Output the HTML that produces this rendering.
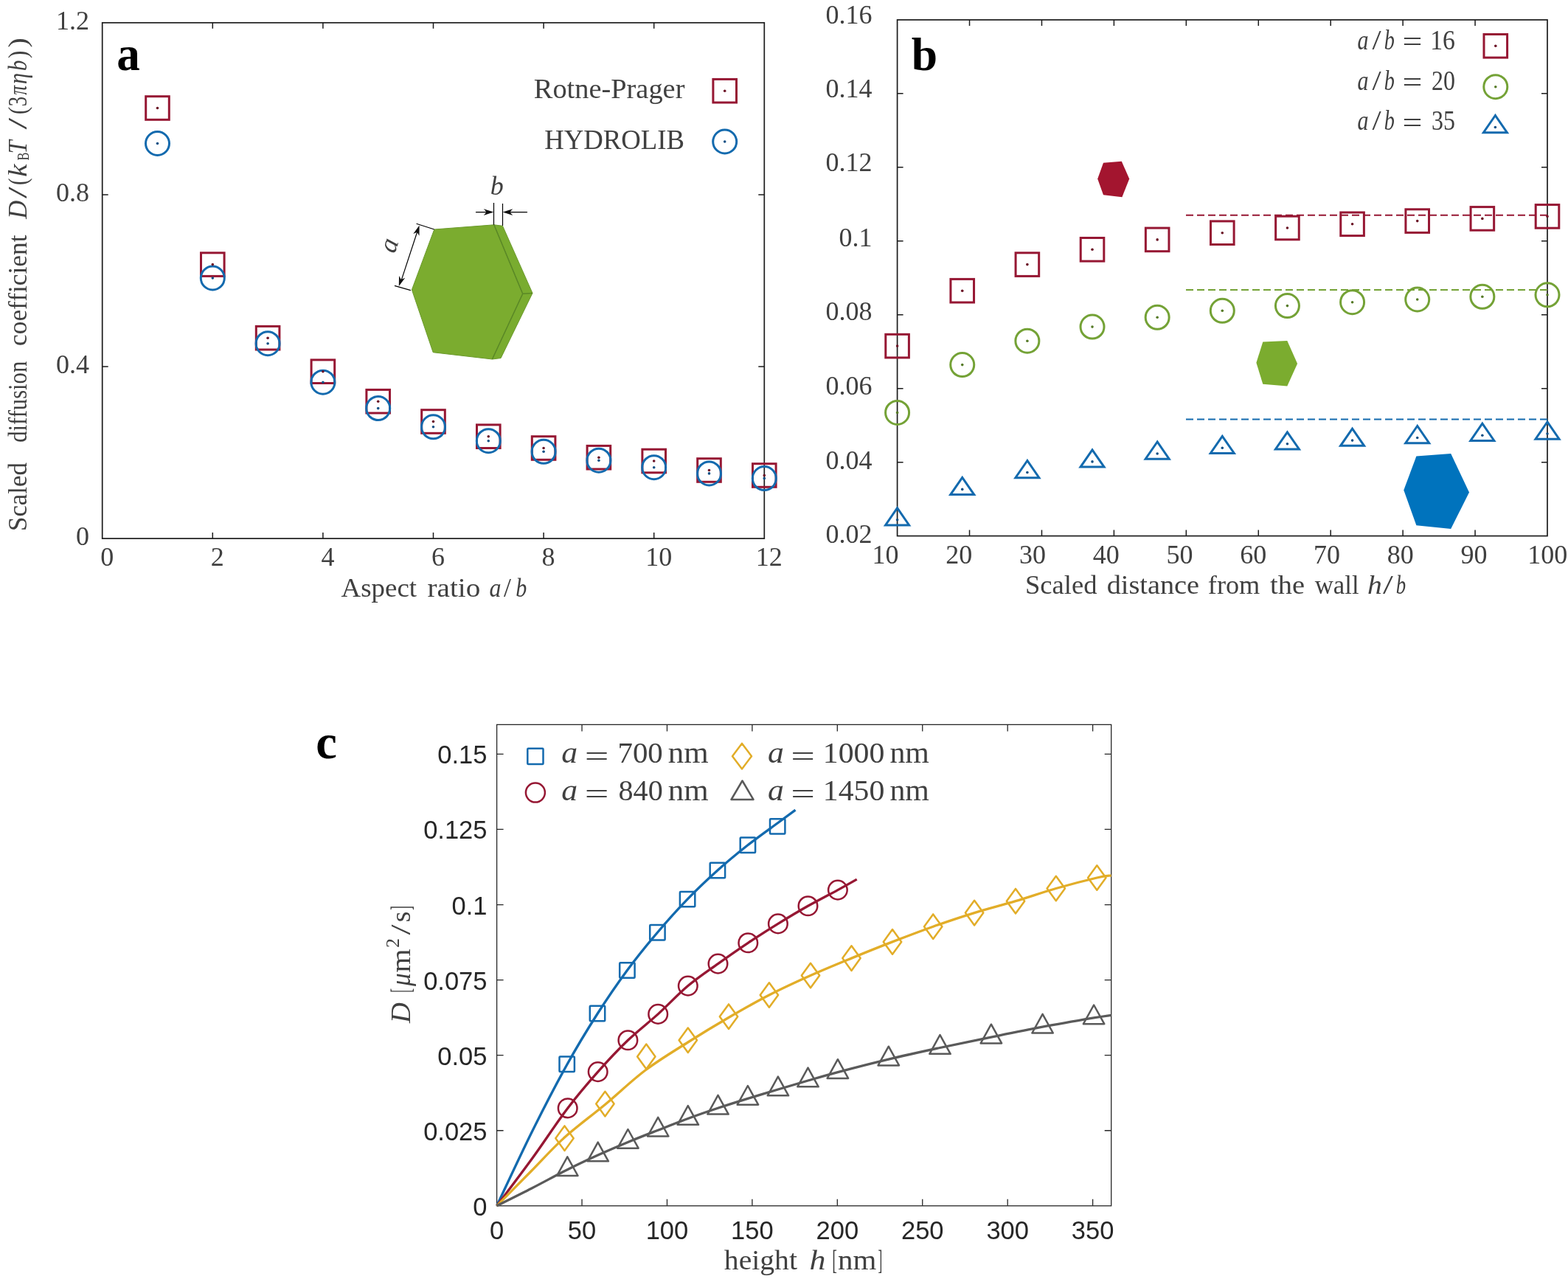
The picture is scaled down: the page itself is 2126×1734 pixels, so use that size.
<!DOCTYPE html><html><head><meta charset="utf-8"><title>Diffusion coefficient figure</title><style>html,body{margin:0;padding:0;background:#fff;}svg{display:block;}</style></head><body>
<svg width="2126" height="1734" viewBox="0 0 2126 1734" font-family="'Liberation Serif', serif">
<rect width="2126" height="1734" fill="#fff"/>
<g id="panel-a">
<path d="M288.3,730.1v-8M288.3,30.8v8M437.9,730.1v-8M437.9,30.8v8M587.5,730.1v-8M587.5,30.8v8M737.1,730.1v-8M737.1,30.8v8M886.7,730.1v-8M886.7,30.8v8M138.7,497h8M1036.3,497h-8M138.7,263.9h8M1036.3,263.9h-8" stroke="#1c1c1c" stroke-width="1.5" fill="none"/>
<rect x="138.7" y="30.8" width="897.6" height="699.3" fill="none" stroke="#1c1c1c" stroke-width="1.7"/>
<text x="121" y="739.1" font-size="36" text-anchor="end" fill="#404040">0</text>
<text x="121" y="506" font-size="36" text-anchor="end" fill="#404040">0.4</text>
<text x="121" y="272.9" font-size="36" text-anchor="end" fill="#404040">0.8</text>
<text x="121" y="39.8" font-size="36" text-anchor="end" fill="#404040">1.2</text>
<text x="145.2" y="766.5" font-size="36" text-anchor="middle" fill="#404040">0</text>
<text x="294.8" y="766.5" font-size="36" text-anchor="middle" fill="#404040">2</text>
<text x="444.4" y="766.5" font-size="36" text-anchor="middle" fill="#404040">4</text>
<text x="594" y="766.5" font-size="36" text-anchor="middle" fill="#404040">6</text>
<text x="743.6" y="766.5" font-size="36" text-anchor="middle" fill="#404040">8</text>
<text x="893.2" y="766.5" font-size="36" text-anchor="middle" fill="#404040">10</text>
<text x="1042.8" y="766.5" font-size="36" text-anchor="middle" fill="#404040">12</text>
<text transform="translate(462.6,809) scale(1.0107,1.0000)" font-size="36.5" fill="#404040">Aspect</text>
<text transform="translate(579.5,809) scale(1.0741,1.0000)" font-size="36.5" fill="#404040">ratio</text>
<text transform="translate(663.62,809) scale(0.8750,1.0000)" font-size="36.5" font-style="italic" fill="#404040">a</text>
<text transform="translate(683,809) scale(0.9818,1.0000)" font-size="36.5" fill="#404040">/</text>
<text transform="translate(699.28,809) scale(0.8235,1.0000)" font-size="36.5" font-style="italic" fill="#404040">b</text>
<g transform="translate(36,0) rotate(-90)">
<text transform="translate(-719.91,0) scale(0.9533,1.0000)" font-size="36.5" fill="#404040">Scaled</text>
<text transform="translate(-599.84,0) scale(0.8392,1.0000)" font-size="36.5" fill="#404040">diffusion</text>
<text transform="translate(-468.97,0) scale(0.9687,1.0000)" font-size="36.5" fill="#404040">coefficient</text>
<text transform="translate(-296.85,0) scale(0.9519,1.0000)" font-size="36.5" font-style="italic" fill="#404040">D</text>
<text transform="translate(-269,0) scale(1.5636,1.0000)" font-size="36.5" fill="#404040">/</text>
<text transform="translate(-251.08,0) scale(0.7800,1.0000)" font-size="36.5" fill="#404040">(</text>
<text transform="translate(-239.67,0) scale(1.0687,1.0000)" font-size="36.5" font-style="italic" fill="#404040">k</text>
<text transform="translate(-217.6,3) scale(0.6800,1.0000)" font-size="24" fill="#404040">B</text>
<text transform="translate(-208.48,0) scale(0.8905,1.0000)" font-size="36.5" font-style="italic" fill="#404040">T</text>
<text transform="translate(-175.5,0) scale(1.5545,1.0000)" font-size="36.5" fill="#404040">/</text>
<text transform="translate(-155.36,0) scale(0.8600,1.0000)" font-size="36.5" fill="#404040">(</text>
<text transform="translate(-144.33,0) scale(0.7312,1.0000)" font-size="36.5" fill="#404040">3</text>
<text transform="translate(-128.8,0) scale(0.7000,1.0000)" font-size="36.5" font-style="italic" fill="#404040">π</text>
<text transform="translate(-114.03,0) scale(0.8250,1.0000)" font-size="36.5" font-style="italic" fill="#404040">η</text>
<text transform="translate(-96.08,0) scale(0.7824,1.0000)" font-size="36.5" font-style="italic" fill="#404040">b</text>
<text transform="translate(-79.06,0) scale(0.8600,1.0000)" font-size="36.5" fill="#404040">)</text>
<text transform="translate(-64.49,0) scale(1.0900,1.0000)" font-size="36.5" fill="#404040">)</text>
</g>
<text transform="translate(158.29,94.5) scale(0.9567,1.0000)" font-size="66" font-weight="bold">a</text>
<text transform="translate(723.78,132.5) scale(1.0238,1.0000)" font-size="37.5" fill="#404040">Rotne-Prager</text>
<text transform="translate(738.22,201.9) scale(0.9800,1.0000)" font-size="37.5" fill="#404040">HYDROLIB</text>
<rect x="966.9" y="107.4" width="31.6" height="31.6" fill="none" stroke="#961733" stroke-width="3.0"/>
<circle cx="982.7" cy="123.2" r="1.8" fill="#6a1024"/>
<circle cx="982.7" cy="192" r="16" fill="none" stroke="#136AAE" stroke-width="3.0"/>
<circle cx="982.7" cy="192" r="1.8" fill="#0f4f84"/>
<polygon points="669.8,304.8 681.5,306.3 722,397.4 679.1,485.5 667.4,487 708.7,398.2" fill="#79AC2F" stroke="#6B9A2C" stroke-width="1"/>
<polygon points="588.8,311 669.8,304.8 708.7,398.2 667.4,487 587.2,477.7 558.4,392.8" fill="#7BAC2F" stroke="#6B9A2C" stroke-width="1"/>
<path d="M669.8,304.8L708.7,398.2L667.4,487M708.7,398.2L722,397.4" fill="none" stroke="#5A8826" stroke-width="1.5" stroke-linejoin="round"/>
<g stroke="#000" stroke-width="1.2" fill="none">
<path d="M564.6,303.2L588.8,311M535,387.3L556.9,393.6"/>
<path d="M567.3,309.5L542.8,384.1"/>
<path d="M669.5,275L669.5,304.8M681.5,276L681.5,306M645,287.6L667,287.6M715,287.6L684,287.6"/>
</g>
<polygon points="568.6,305.5 568.48,319.67 565.57,314.74 560.3,316.99" fill="#111"/>
<polygon points="540.8,388.1 541.04,373.93 543.91,378.89 549.19,376.68" fill="#111"/>
<polygon points="669.3,287.6 655.8,291.9 659.58,287.6 655.8,283.3" fill="#111"/>
<polygon points="681.7,287.6 695.2,283.3 691.42,287.6 695.2,291.9" fill="#111"/>
<text x="673.7" y="264" font-size="36" text-anchor="middle" font-style="italic" fill="#404040">b</text>
<text transform="translate(538,336) rotate(-72)" font-size="36" font-style="italic" text-anchor="middle" fill="#404040">a</text>
<rect x="197.7" y="130.7" width="31.6" height="31.6" fill="none" stroke="#961733" stroke-width="3.0"/>
<rect x="272.5" y="342.8" width="31.6" height="31.6" fill="none" stroke="#961733" stroke-width="3.0"/>
<rect x="347.3" y="442.4" width="31.6" height="31.6" fill="none" stroke="#961733" stroke-width="3.0"/>
<rect x="422.1" y="487.9" width="31.6" height="31.6" fill="none" stroke="#961733" stroke-width="3.0"/>
<rect x="496.9" y="528.4" width="31.6" height="31.6" fill="none" stroke="#961733" stroke-width="3.0"/>
<rect x="571.7" y="555.7" width="31.6" height="31.6" fill="none" stroke="#961733" stroke-width="3.0"/>
<rect x="646.5" y="575.9" width="31.6" height="31.6" fill="none" stroke="#961733" stroke-width="3.0"/>
<rect x="721.3" y="591.7" width="31.6" height="31.6" fill="none" stroke="#961733" stroke-width="3.0"/>
<rect x="796.1" y="604.4" width="31.6" height="31.6" fill="none" stroke="#961733" stroke-width="3.0"/>
<rect x="870.9" y="609.2" width="31.6" height="31.6" fill="none" stroke="#961733" stroke-width="3.0"/>
<rect x="945.7" y="621.7" width="31.6" height="31.6" fill="none" stroke="#961733" stroke-width="3.0"/>
<rect x="1020.5" y="628.7" width="31.6" height="31.6" fill="none" stroke="#961733" stroke-width="3.0"/>
<circle cx="213.5" cy="194.5" r="16" fill="none" stroke="#136AAE" stroke-width="3.0"/>
<circle cx="288.3" cy="377" r="16" fill="none" stroke="#136AAE" stroke-width="3.0"/>
<circle cx="363.1" cy="465.7" r="16" fill="none" stroke="#136AAE" stroke-width="3.0"/>
<circle cx="437.9" cy="518.2" r="16" fill="none" stroke="#136AAE" stroke-width="3.0"/>
<circle cx="512.7" cy="553.6" r="16" fill="none" stroke="#136AAE" stroke-width="3.0"/>
<circle cx="587.5" cy="578.8" r="16" fill="none" stroke="#136AAE" stroke-width="3.0"/>
<circle cx="662.3" cy="597.7" r="16" fill="none" stroke="#136AAE" stroke-width="3.0"/>
<circle cx="737.1" cy="612.3" r="16" fill="none" stroke="#136AAE" stroke-width="3.0"/>
<circle cx="811.9" cy="624.2" r="16" fill="none" stroke="#136AAE" stroke-width="3.0"/>
<circle cx="886.7" cy="633.7" r="16" fill="none" stroke="#136AAE" stroke-width="3.0"/>
<circle cx="961.5" cy="641.9" r="16" fill="none" stroke="#136AAE" stroke-width="3.0"/>
<circle cx="1036.3" cy="648.6" r="16" fill="none" stroke="#136AAE" stroke-width="3.0"/>
<circle cx="213.5" cy="146.5" r="1.8" fill="#6a1024"/>
<circle cx="213.5" cy="194.5" r="1.8" fill="#0f4f84"/>
<circle cx="288.3" cy="358.6" r="1.8" fill="#6a1024"/>
<circle cx="288.3" cy="377" r="1.8" fill="#0f4f84"/>
<circle cx="363.1" cy="458.2" r="1.8" fill="#6a1024"/>
<circle cx="363.1" cy="465.7" r="1.8" fill="#0f4f84"/>
<circle cx="437.9" cy="503.7" r="1.8" fill="#6a1024"/>
<circle cx="437.9" cy="518.2" r="1.8" fill="#0f4f84"/>
<circle cx="512.7" cy="544.2" r="1.8" fill="#6a1024"/>
<circle cx="512.7" cy="553.6" r="1.8" fill="#0f4f84"/>
<circle cx="587.5" cy="571.5" r="1.8" fill="#6a1024"/>
<circle cx="587.5" cy="578.8" r="1.8" fill="#0f4f84"/>
<circle cx="662.3" cy="591.7" r="1.8" fill="#6a1024"/>
<circle cx="662.3" cy="597.7" r="1.8" fill="#0f4f84"/>
<circle cx="737.1" cy="607.5" r="1.8" fill="#6a1024"/>
<circle cx="737.1" cy="612.3" r="1.8" fill="#0f4f84"/>
<circle cx="811.9" cy="620.2" r="1.8" fill="#6a1024"/>
<circle cx="811.9" cy="624.2" r="1.8" fill="#0f4f84"/>
<circle cx="886.7" cy="625" r="1.8" fill="#6a1024"/>
<circle cx="886.7" cy="633.7" r="1.8" fill="#0f4f84"/>
<circle cx="961.5" cy="637.5" r="1.8" fill="#6a1024"/>
<circle cx="961.5" cy="641.9" r="1.8" fill="#0f4f84"/>
<circle cx="1036.3" cy="644.5" r="1.8" fill="#6a1024"/>
<circle cx="1036.3" cy="648.6" r="1.8" fill="#0f4f84"/>
</g>
<g id="panel-b">
<path d="M1314.53,726.6v-8M1314.53,26.9v8M1412.47,726.6v-8M1412.47,26.9v8M1510.4,726.6v-8M1510.4,26.9v8M1608.33,726.6v-8M1608.33,26.9v8M1706.27,726.6v-8M1706.27,26.9v8M1804.2,726.6v-8M1804.2,26.9v8M1902.13,726.6v-8M1902.13,26.9v8M2000.07,726.6v-8M2000.07,26.9v8M1216.6,626.64h8M2098,626.64h-8M1216.6,526.69h8M2098,526.69h-8M1216.6,426.73h8M2098,426.73h-8M1216.6,326.77h8M2098,326.77h-8M1216.6,226.81h8M2098,226.81h-8M1216.6,126.86h8M2098,126.86h-8" stroke="#1c1c1c" stroke-width="1.5" fill="none"/>
<rect x="1216.6" y="26.9" width="881.4" height="699.7" fill="none" stroke="#1c1c1c" stroke-width="1.7"/>
<text x="1182.5" y="31.5" font-size="36" text-anchor="end" fill="#404040">0.16</text>
<text x="1182.5" y="131.6" font-size="36" text-anchor="end" fill="#404040">0.14</text>
<text x="1182.5" y="231.8" font-size="36" text-anchor="end" fill="#404040">0.12</text>
<text x="1182.5" y="333.9" font-size="36" text-anchor="end" fill="#404040">0.1</text>
<text x="1182.5" y="433.7" font-size="36" text-anchor="end" fill="#404040">0.08</text>
<text x="1182.5" y="535.2" font-size="36" text-anchor="end" fill="#404040">0.06</text>
<text x="1182.5" y="635.5" font-size="36" text-anchor="end" fill="#404040">0.04</text>
<text x="1182.5" y="736.2" font-size="36" text-anchor="end" fill="#404040">0.02</text>
<text x="1200.6" y="764" font-size="36" text-anchor="middle" fill="#404040">10</text>
<text x="1300.34" y="764" font-size="36" text-anchor="middle" fill="#404040">20</text>
<text x="1400.08" y="764" font-size="36" text-anchor="middle" fill="#404040">30</text>
<text x="1499.82" y="764" font-size="36" text-anchor="middle" fill="#404040">40</text>
<text x="1599.56" y="764" font-size="36" text-anchor="middle" fill="#404040">50</text>
<text x="1699.3" y="764" font-size="36" text-anchor="middle" fill="#404040">60</text>
<text x="1799.04" y="764" font-size="36" text-anchor="middle" fill="#404040">70</text>
<text x="1898.78" y="764" font-size="36" text-anchor="middle" fill="#404040">80</text>
<text x="1998.52" y="764" font-size="36" text-anchor="middle" fill="#404040">90</text>
<text x="2098.26" y="764" font-size="36" text-anchor="middle" fill="#404040">100</text>
<text transform="translate(1390,805) scale(1.0017,1.0000)" font-size="36.5" fill="#404040">Scaled</text>
<text transform="translate(1500.65,805) scale(1.0487,1.0000)" font-size="36.5" fill="#404040">distance</text>
<text transform="translate(1637.81,805) scale(0.9934,1.0000)" font-size="36.5" fill="#404040">from</text>
<text transform="translate(1722.1,805) scale(1.0509,1.0000)" font-size="36.5" fill="#404040">the</text>
<text transform="translate(1782.7,805) scale(0.9537,1.0000)" font-size="36.5" fill="#404040">wall</text>
<text transform="translate(1853.91,805) scale(1.0875,1.0000)" font-size="36.5" font-style="italic" fill="#404040">h</text>
<text transform="translate(1874.9,805) scale(1.3636,1.0000)" font-size="36.5" fill="#404040">/</text>
<text transform="translate(1892.86,805) scale(0.7353,1.0000)" font-size="36.5" font-style="italic" fill="#404040">b</text>
<text transform="translate(1235.7,95.04) scale(0.9629,0.9574)" font-size="66" font-weight="bold">b</text>
<text transform="translate(1840.59,66.7) scale(0.8118,1.0000)" font-size="37" font-style="italic" fill="#404040">a</text>
<text transform="translate(1860.6,66.7) scale(1.1818,1.0000)" font-size="37" fill="#404040">/</text>
<text transform="translate(1876.74,66.7) scale(0.7647,1.0000)" font-size="37" font-style="italic" fill="#404040">b</text>
<text transform="translate(1901.51,69.4) scale(1.2895,1.0000)" font-size="37" fill="#404040">=</text>
<text transform="translate(1939.16,66.7) scale(0.9134,1.0000)" font-size="37" fill="#404040">16</text>
<text transform="translate(1840.59,121.55) scale(0.8118,1.0000)" font-size="37" font-style="italic" fill="#404040">a</text>
<text transform="translate(1860.6,121.55) scale(1.1818,1.0000)" font-size="37" fill="#404040">/</text>
<text transform="translate(1876.74,121.55) scale(0.7647,1.0000)" font-size="37" font-style="italic" fill="#404040">b</text>
<text transform="translate(1901.51,124.25) scale(1.2895,1.0000)" font-size="37" fill="#404040">=</text>
<text transform="translate(1941.04,121.55) scale(0.8620,1.0000)" font-size="37" fill="#404040">20</text>
<text transform="translate(1840.59,176.4) scale(0.8118,1.0000)" font-size="37" font-style="italic" fill="#404040">a</text>
<text transform="translate(1860.6,176.4) scale(1.1818,1.0000)" font-size="37" fill="#404040">/</text>
<text transform="translate(1876.74,176.4) scale(0.7647,1.0000)" font-size="37" font-style="italic" fill="#404040">b</text>
<text transform="translate(1901.51,179.1) scale(1.2895,1.0000)" font-size="37" fill="#404040">=</text>
<text transform="translate(1941.04,176.4) scale(0.8620,1.0000)" font-size="37" fill="#404040">35</text>
<rect x="2012" y="46.5" width="31.6" height="31.6" fill="none" stroke="#961733" stroke-width="3.0"/>
<circle cx="2027.8" cy="62.3" r="1.8" fill="#6a1024"/>
<circle cx="2027.8" cy="117.7" r="16" fill="none" stroke="#74A236" stroke-width="3.0"/>
<circle cx="2027.8" cy="117.7" r="1.8" fill="#557a26"/>
<polygon points="2027.4,156.5 2011.4,179.7 2043.4,179.7" fill="none" stroke="#136AAE" stroke-width="3.0" stroke-linejoin="miter"/>
<circle cx="2027.4" cy="172.5" r="1.8" fill="#0f4f84"/>
<path d="M1608,291.7H2098" stroke="#961733" stroke-width="2" stroke-dasharray="10,5" fill="none"/>
<path d="M1608,393.1H2098" stroke="#74A236" stroke-width="2" stroke-dasharray="10,5" fill="none"/>
<path d="M1608,568.4H2098" stroke="#136AAE" stroke-width="2" stroke-dasharray="10,5" fill="none"/>
<polygon points="1496,220.7 1520.8,218.8 1531.2,242.5 1521.4,267.2 1496,264.2 1488.2,242.5" fill="#A3152F"/>
<polygon points="1712.3,463.4 1745.3,462 1759.1,492.9 1745.3,523.5 1712.3,520.8 1703.4,491.8" fill="#7BAC2F"/>
<polygon points="1920.4,618.6 1967.2,615 1992,667.4 1967.2,717 1920.4,712.3 1903.3,664.6" fill="#0073BD"/>
<rect x="1200.8" y="453.3" width="31.6" height="31.6" fill="none" stroke="#961733" stroke-width="3.0"/>
<rect x="1288.94" y="378.4" width="31.6" height="31.6" fill="none" stroke="#961733" stroke-width="3.0"/>
<rect x="1377.08" y="342.8" width="31.6" height="31.6" fill="none" stroke="#961733" stroke-width="3.0"/>
<rect x="1465.22" y="322.5" width="31.6" height="31.6" fill="none" stroke="#961733" stroke-width="3.0"/>
<rect x="1553.36" y="309.1" width="31.6" height="31.6" fill="none" stroke="#961733" stroke-width="3.0"/>
<rect x="1641.5" y="299.9" width="31.6" height="31.6" fill="none" stroke="#961733" stroke-width="3.0"/>
<rect x="1729.64" y="293.2" width="31.6" height="31.6" fill="none" stroke="#961733" stroke-width="3.0"/>
<rect x="1817.78" y="288" width="31.6" height="31.6" fill="none" stroke="#961733" stroke-width="3.0"/>
<rect x="1905.92" y="283.8" width="31.6" height="31.6" fill="none" stroke="#961733" stroke-width="3.0"/>
<rect x="1994.06" y="280.6" width="31.6" height="31.6" fill="none" stroke="#961733" stroke-width="3.0"/>
<rect x="2082.2" y="277.6" width="31.6" height="31.6" fill="none" stroke="#961733" stroke-width="3.0"/>
<circle cx="1216.6" cy="559.4" r="16" fill="none" stroke="#74A236" stroke-width="3.0"/>
<circle cx="1304.74" cy="494.6" r="16" fill="none" stroke="#74A236" stroke-width="3.0"/>
<circle cx="1392.88" cy="462.2" r="16" fill="none" stroke="#74A236" stroke-width="3.0"/>
<circle cx="1481.02" cy="443.1" r="16" fill="none" stroke="#74A236" stroke-width="3.0"/>
<circle cx="1569.16" cy="430.3" r="16" fill="none" stroke="#74A236" stroke-width="3.0"/>
<circle cx="1657.3" cy="421.3" r="16" fill="none" stroke="#74A236" stroke-width="3.0"/>
<circle cx="1745.44" cy="414.6" r="16" fill="none" stroke="#74A236" stroke-width="3.0"/>
<circle cx="1833.58" cy="409.7" r="16" fill="none" stroke="#74A236" stroke-width="3.0"/>
<circle cx="1921.72" cy="406" r="16" fill="none" stroke="#74A236" stroke-width="3.0"/>
<circle cx="2009.86" cy="402.3" r="16" fill="none" stroke="#74A236" stroke-width="3.0"/>
<circle cx="2098" cy="399.8" r="16" fill="none" stroke="#74A236" stroke-width="3.0"/>
<polygon points="1216.6,688.7 1200.6,711.9 1232.6,711.9" fill="none" stroke="#136AAE" stroke-width="3.0" stroke-linejoin="miter"/>
<polygon points="1304.74,647.4 1288.74,670.6 1320.74,670.6" fill="none" stroke="#136AAE" stroke-width="3.0" stroke-linejoin="miter"/>
<polygon points="1392.88,624.5 1376.88,647.7 1408.88,647.7" fill="none" stroke="#136AAE" stroke-width="3.0" stroke-linejoin="miter"/>
<polygon points="1481.02,609.9 1465.02,633.1 1497.02,633.1" fill="none" stroke="#136AAE" stroke-width="3.0" stroke-linejoin="miter"/>
<polygon points="1569.16,599 1553.16,622.2 1585.16,622.2" fill="none" stroke="#136AAE" stroke-width="3.0" stroke-linejoin="miter"/>
<polygon points="1657.3,591.3 1641.3,614.5 1673.3,614.5" fill="none" stroke="#136AAE" stroke-width="3.0" stroke-linejoin="miter"/>
<polygon points="1745.44,585.8 1729.44,609 1761.44,609" fill="none" stroke="#136AAE" stroke-width="3.0" stroke-linejoin="miter"/>
<polygon points="1833.58,581.1 1817.58,604.3 1849.58,604.3" fill="none" stroke="#136AAE" stroke-width="3.0" stroke-linejoin="miter"/>
<polygon points="1921.72,577.5 1905.72,600.7 1937.72,600.7" fill="none" stroke="#136AAE" stroke-width="3.0" stroke-linejoin="miter"/>
<polygon points="2009.86,574.2 1993.86,597.4 2025.86,597.4" fill="none" stroke="#136AAE" stroke-width="3.0" stroke-linejoin="miter"/>
<polygon points="2098,572 2082,595.2 2114,595.2" fill="none" stroke="#136AAE" stroke-width="3.0" stroke-linejoin="miter"/>
<circle cx="1216.6" cy="469.1" r="1.8" fill="#6a1024"/>
<circle cx="1216.6" cy="559.4" r="1.8" fill="#557a26"/>
<circle cx="1216.6" cy="704.7" r="1.8" fill="#0f4f84"/>
<circle cx="1304.74" cy="394.2" r="1.8" fill="#6a1024"/>
<circle cx="1304.74" cy="494.6" r="1.8" fill="#557a26"/>
<circle cx="1304.74" cy="663.4" r="1.8" fill="#0f4f84"/>
<circle cx="1392.88" cy="358.6" r="1.8" fill="#6a1024"/>
<circle cx="1392.88" cy="462.2" r="1.8" fill="#557a26"/>
<circle cx="1392.88" cy="640.5" r="1.8" fill="#0f4f84"/>
<circle cx="1481.02" cy="338.3" r="1.8" fill="#6a1024"/>
<circle cx="1481.02" cy="443.1" r="1.8" fill="#557a26"/>
<circle cx="1481.02" cy="625.9" r="1.8" fill="#0f4f84"/>
<circle cx="1569.16" cy="324.9" r="1.8" fill="#6a1024"/>
<circle cx="1569.16" cy="430.3" r="1.8" fill="#557a26"/>
<circle cx="1569.16" cy="615" r="1.8" fill="#0f4f84"/>
<circle cx="1657.3" cy="315.7" r="1.8" fill="#6a1024"/>
<circle cx="1657.3" cy="421.3" r="1.8" fill="#557a26"/>
<circle cx="1657.3" cy="607.3" r="1.8" fill="#0f4f84"/>
<circle cx="1745.44" cy="309" r="1.8" fill="#6a1024"/>
<circle cx="1745.44" cy="414.6" r="1.8" fill="#557a26"/>
<circle cx="1745.44" cy="601.8" r="1.8" fill="#0f4f84"/>
<circle cx="1833.58" cy="303.8" r="1.8" fill="#6a1024"/>
<circle cx="1833.58" cy="409.7" r="1.8" fill="#557a26"/>
<circle cx="1833.58" cy="597.1" r="1.8" fill="#0f4f84"/>
<circle cx="1921.72" cy="299.6" r="1.8" fill="#6a1024"/>
<circle cx="1921.72" cy="406" r="1.8" fill="#557a26"/>
<circle cx="1921.72" cy="593.5" r="1.8" fill="#0f4f84"/>
<circle cx="2009.86" cy="296.4" r="1.8" fill="#6a1024"/>
<circle cx="2009.86" cy="402.3" r="1.8" fill="#557a26"/>
<circle cx="2009.86" cy="590.2" r="1.8" fill="#0f4f84"/>
<circle cx="2098" cy="293.4" r="1.8" fill="#6a1024"/>
<circle cx="2098" cy="399.8" r="1.8" fill="#557a26"/>
<circle cx="2098" cy="588" r="1.8" fill="#0f4f84"/>
</g>
<g id="panel-c">
<path d="M789.03,1634.8v-9M789.03,982.4v9M904.46,1634.8v-9M904.46,982.4v9M1019.89,1634.8v-9M1019.89,982.4v9M1135.32,1634.8v-9M1135.32,982.4v9M1250.75,1634.8v-9M1250.75,982.4v9M1366.18,1634.8v-9M1366.18,982.4v9M1481.61,1634.8v-9M1481.61,982.4v9M673.6,1532.73h9M1506.7,1532.73h-9M673.6,1430.66h9M1506.7,1430.66h-9M673.6,1328.6h9M1506.7,1328.6h-9M673.6,1226.53h9M1506.7,1226.53h-9M673.6,1124.46h9M1506.7,1124.46h-9M673.6,1022.39h9M1506.7,1022.39h-9" stroke="#262626" stroke-width="1.3" fill="none"/>
<rect x="673.6" y="982.4" width="833.1" height="652.4" fill="none" stroke="#262626" stroke-width="1.3"/>
<text x="660.5" y="1647.8" font-size="34.5" text-anchor="end" style="font-family:'Liberation Sans', sans-serif" fill="#262626">0</text>
<text x="660.5" y="1545.73" font-size="34.5" text-anchor="end" style="font-family:'Liberation Sans', sans-serif" fill="#262626">0.025</text>
<text x="660.5" y="1443.66" font-size="34.5" text-anchor="end" style="font-family:'Liberation Sans', sans-serif" fill="#262626">0.05</text>
<text x="660.5" y="1341.6" font-size="34.5" text-anchor="end" style="font-family:'Liberation Sans', sans-serif" fill="#262626">0.075</text>
<text x="660.5" y="1239.53" font-size="34.5" text-anchor="end" style="font-family:'Liberation Sans', sans-serif" fill="#262626">0.1</text>
<text x="660.5" y="1137.46" font-size="34.5" text-anchor="end" style="font-family:'Liberation Sans', sans-serif" fill="#262626">0.125</text>
<text x="660.5" y="1035.39" font-size="34.5" text-anchor="end" style="font-family:'Liberation Sans', sans-serif" fill="#262626">0.15</text>
<text x="673.6" y="1679.5" font-size="34.5" text-anchor="middle" style="font-family:'Liberation Sans', sans-serif" fill="#262626">0</text>
<text x="789.03" y="1679.5" font-size="34.5" text-anchor="middle" style="font-family:'Liberation Sans', sans-serif" fill="#262626">50</text>
<text x="904.46" y="1679.5" font-size="34.5" text-anchor="middle" style="font-family:'Liberation Sans', sans-serif" fill="#262626">100</text>
<text x="1019.89" y="1679.5" font-size="34.5" text-anchor="middle" style="font-family:'Liberation Sans', sans-serif" fill="#262626">150</text>
<text x="1135.32" y="1679.5" font-size="34.5" text-anchor="middle" style="font-family:'Liberation Sans', sans-serif" fill="#262626">200</text>
<text x="1250.75" y="1679.5" font-size="34.5" text-anchor="middle" style="font-family:'Liberation Sans', sans-serif" fill="#262626">250</text>
<text x="1366.18" y="1679.5" font-size="34.5" text-anchor="middle" style="font-family:'Liberation Sans', sans-serif" fill="#262626">300</text>
<text x="1481.61" y="1679.5" font-size="34.5" text-anchor="middle" style="font-family:'Liberation Sans', sans-serif" fill="#262626">350</text>
<text transform="translate(981.8,1720.7) scale(1.0719,1.0000)" font-size="37" fill="#404040">height</text>
<text transform="translate(1097.61,1720.7) scale(1.1875,1.0000)" font-size="37" font-style="italic" fill="#404040">h</text>
<text transform="translate(1128.31,1720.7) scale(0.5444,1.0000)" font-size="37" fill="#404040">[</text>
<text transform="translate(1136.1,1720.7) scale(1.1074,1.0000)" font-size="37" fill="#404040">nm</text>
<text transform="translate(1190.62,1720.7) scale(0.4778,1.0000)" font-size="37" fill="#404040">]</text>
<g transform="translate(555.5,0) rotate(-90)">
<text transform="translate(-1386.95,0) scale(1.0464,1.0000)" font-size="37" font-style="italic" fill="#404040">D</text>
<text transform="translate(-1346.1,0) scale(0.5000,1.0000)" font-size="37" fill="#404040">[</text>
<text transform="translate(-1337.05,0) scale(0.9526,1.0000)" font-size="37" font-style="italic" fill="#404040">μ</text>
<text transform="translate(-1318.4,0) scale(1.1138,1.0000)" font-size="37" fill="#404040">m</text>
<text transform="translate(-1285,-14.5) scale(1.0000,1.0000)" font-size="26" fill="#404040">2</text>
<text transform="translate(-1267.4,0) scale(1.3727,1.0000)" font-size="37" fill="#404040">/</text>
<text transform="translate(-1250.32,0) scale(1.0154,1.0000)" font-size="37" fill="#404040">s</text>
<text transform="translate(-1234.1,0) scale(0.5000,1.0000)" font-size="37" fill="#404040">]</text>
</g>
<text transform="translate(428.15,1027.52) scale(0.9769,0.9844)" font-size="66" font-weight="bold">c</text>
<path d="M673.6,1634.8C681.5,1618.17 705.15,1566.88 721,1535C736.85,1503.12 753.87,1470.25 768.7,1443.5C783.53,1416.75 796.38,1395.83 810,1374.5C823.62,1353.17 836.83,1333.88 850.4,1315.5C863.97,1297.12 877.78,1280.27 891.4,1264.2C905.02,1248.13 918.52,1233.13 932.1,1219.1C945.68,1205.07 959.27,1192.22 972.9,1180C986.53,1167.78 1000.35,1156.47 1013.9,1145.8C1027.45,1135.13 1043.43,1123.93 1054.2,1116C1064.97,1108.07 1074.45,1101.17 1078.5,1098.2" fill="none" stroke="#136AAE" stroke-width="3.3" stroke-linejoin="round"/>
<path d="M673.6,1634.8C681.67,1624 705.98,1592.07 722,1570C738.02,1547.93 754.92,1521.88 769.7,1502.4C784.48,1482.92 797.08,1468.45 810.7,1453.1C824.32,1437.75 837.82,1423.33 851.4,1410.3C864.98,1397.27 878.63,1387.18 892.2,1374.9C905.77,1362.62 919.25,1347.98 932.8,1336.6C946.35,1325.22 959.92,1316.32 973.5,1306.6C987.08,1296.88 1000.73,1287.33 1014.3,1278.3C1027.87,1269.27 1041.37,1260.73 1054.9,1252.4C1068.43,1244.07 1082,1235.93 1095.5,1228.3C1109,1220.67 1124.87,1212.63 1135.9,1206.6C1146.93,1200.57 1157.4,1194.52 1161.7,1192.1" fill="none" stroke="#961733" stroke-width="3.3" stroke-linejoin="round"/>
<path d="M673.6,1634.8C681.33,1627 704.68,1603.47 720,1588C735.32,1572.53 748.77,1557.08 765.5,1542C782.23,1526.92 802.15,1512.67 820.4,1497.5C838.65,1482.33 856.27,1465.08 875,1451C893.73,1436.92 913.97,1424.92 932.8,1413C951.63,1401.08 969.65,1390.17 988,1379.5C1006.35,1368.83 1024.4,1358.5 1042.9,1349C1061.4,1339.5 1080.4,1330.82 1099,1322.5C1117.6,1314.18 1136,1306.7 1154.5,1299.1C1173,1291.5 1191.55,1284.05 1210,1276.9C1228.45,1269.75 1246.68,1262.75 1265.2,1256.2C1283.72,1249.65 1302.47,1243.35 1321.1,1237.6C1339.73,1231.85 1358.55,1227.22 1377,1221.7C1395.45,1216.18 1413.42,1209.78 1431.8,1204.5C1450.18,1199.22 1474.82,1192.93 1487.3,1190C1499.78,1187.07 1503.47,1187.42 1506.7,1186.9" fill="none" stroke="#E2AD28" stroke-width="3.3" stroke-linejoin="round"/>
<path d="M673.6,1634.8C681.5,1630.83 705.05,1619.18 721,1611C736.95,1602.82 754.35,1593.2 769.3,1585.7C784.25,1578.2 797.02,1572.22 810.7,1566C824.38,1559.78 837.82,1554.03 851.4,1548.4C864.98,1542.77 878.63,1537.52 892.2,1532.2C905.77,1526.88 919.25,1521.48 932.8,1516.5C946.35,1511.52 959.98,1506.82 973.5,1502.3C987.02,1497.78 1000.33,1493.62 1013.9,1489.4C1027.47,1485.18 1041.3,1481.07 1054.9,1477C1068.5,1472.93 1082,1468.9 1095.5,1465C1109,1461.1 1117.68,1458.42 1135.9,1453.6C1154.12,1448.78 1181.7,1441.62 1204.8,1436.1C1227.9,1430.58 1251.32,1425.5 1274.5,1420.5C1297.68,1415.5 1320.72,1410.82 1343.9,1406.1C1367.08,1401.38 1390.4,1396.57 1413.6,1392.2C1436.8,1387.83 1467.58,1382.55 1483.1,1379.9C1498.62,1377.25 1502.77,1376.9 1506.7,1376.3" fill="none" stroke="#5A5A5A" stroke-width="3.3" stroke-linejoin="round"/>
<rect x="758.5" y="1432.6" width="20.4" height="20.4" rx="1" fill="none" stroke="#136AAE" stroke-width="2.5"/>
<rect x="799.8" y="1363.8" width="20.4" height="20.4" rx="1" fill="none" stroke="#136AAE" stroke-width="2.5"/>
<rect x="840.2" y="1305.3" width="20.4" height="20.4" rx="1" fill="none" stroke="#136AAE" stroke-width="2.5"/>
<rect x="881.2" y="1254" width="20.4" height="20.4" rx="1" fill="none" stroke="#136AAE" stroke-width="2.5"/>
<rect x="921.9" y="1208.9" width="20.4" height="20.4" rx="1" fill="none" stroke="#136AAE" stroke-width="2.5"/>
<rect x="962.7" y="1169.8" width="20.4" height="20.4" rx="1" fill="none" stroke="#136AAE" stroke-width="2.5"/>
<rect x="1003.7" y="1135.6" width="20.4" height="20.4" rx="1" fill="none" stroke="#136AAE" stroke-width="2.5"/>
<rect x="1044" y="1110.2" width="20.4" height="20.4" rx="1" fill="none" stroke="#136AAE" stroke-width="2.5"/>
<circle cx="769.7" cy="1502.4" r="12.8" fill="none" stroke="#961733" stroke-width="2.5"/>
<circle cx="810.7" cy="1453.1" r="12.8" fill="none" stroke="#961733" stroke-width="2.5"/>
<circle cx="851.4" cy="1410.3" r="12.8" fill="none" stroke="#961733" stroke-width="2.5"/>
<circle cx="892.2" cy="1374.9" r="12.8" fill="none" stroke="#961733" stroke-width="2.5"/>
<circle cx="932.8" cy="1336.6" r="12.8" fill="none" stroke="#961733" stroke-width="2.5"/>
<circle cx="973.5" cy="1306.6" r="12.8" fill="none" stroke="#961733" stroke-width="2.5"/>
<circle cx="1014.3" cy="1278.3" r="12.8" fill="none" stroke="#961733" stroke-width="2.5"/>
<circle cx="1054.9" cy="1252.4" r="12.8" fill="none" stroke="#961733" stroke-width="2.5"/>
<circle cx="1095.5" cy="1228.3" r="12.8" fill="none" stroke="#961733" stroke-width="2.5"/>
<circle cx="1135.9" cy="1206.6" r="12.8" fill="none" stroke="#961733" stroke-width="2.5"/>
<polygon points="765.5,1526.4 777.7,1543.2 765.5,1560 753.3,1543.2" fill="none" stroke="#E2AD28" stroke-width="2.5" stroke-linejoin="round"/>
<polygon points="820.4,1479.8 832.6,1496.6 820.4,1513.4 808.2,1496.6" fill="none" stroke="#E2AD28" stroke-width="2.5" stroke-linejoin="round"/>
<polygon points="876.3,1415.6 888.5,1432.4 876.3,1449.2 864.1,1432.4" fill="none" stroke="#E2AD28" stroke-width="2.5" stroke-linejoin="round"/>
<polygon points="932.8,1393.5 945,1410.3 932.8,1427.1 920.6,1410.3" fill="none" stroke="#E2AD28" stroke-width="2.5" stroke-linejoin="round"/>
<polygon points="988,1361.4 1000.2,1378.2 988,1395 975.8,1378.2" fill="none" stroke="#E2AD28" stroke-width="2.5" stroke-linejoin="round"/>
<polygon points="1042.9,1332.2 1055.1,1349 1042.9,1365.8 1030.7,1349" fill="none" stroke="#E2AD28" stroke-width="2.5" stroke-linejoin="round"/>
<polygon points="1099,1305.7 1111.2,1322.5 1099,1339.3 1086.8,1322.5" fill="none" stroke="#E2AD28" stroke-width="2.5" stroke-linejoin="round"/>
<polygon points="1154.5,1282.3 1166.7,1299.1 1154.5,1315.9 1142.3,1299.1" fill="none" stroke="#E2AD28" stroke-width="2.5" stroke-linejoin="round"/>
<polygon points="1210,1260.1 1222.2,1276.9 1210,1293.7 1197.8,1276.9" fill="none" stroke="#E2AD28" stroke-width="2.5" stroke-linejoin="round"/>
<polygon points="1265.2,1239.4 1277.4,1256.2 1265.2,1273 1253,1256.2" fill="none" stroke="#E2AD28" stroke-width="2.5" stroke-linejoin="round"/>
<polygon points="1321.1,1220.8 1333.3,1237.6 1321.1,1254.4 1308.9,1237.6" fill="none" stroke="#E2AD28" stroke-width="2.5" stroke-linejoin="round"/>
<polygon points="1377,1204.9 1389.2,1221.7 1377,1238.5 1364.8,1221.7" fill="none" stroke="#E2AD28" stroke-width="2.5" stroke-linejoin="round"/>
<polygon points="1431.8,1187.7 1444,1204.5 1431.8,1221.3 1419.6,1204.5" fill="none" stroke="#E2AD28" stroke-width="2.5" stroke-linejoin="round"/>
<polygon points="1487.3,1173.2 1499.5,1190 1487.3,1206.8 1475.1,1190" fill="none" stroke="#E2AD28" stroke-width="2.5" stroke-linejoin="round"/>
<polygon points="769.3,1568.3 783.5,1594 755.1,1594" fill="none" stroke="#5A5A5A" stroke-width="2.5" stroke-linejoin="round"/>
<polygon points="810.7,1548.6 824.9,1574.3 796.5,1574.3" fill="none" stroke="#5A5A5A" stroke-width="2.5" stroke-linejoin="round"/>
<polygon points="851.4,1531 865.6,1556.7 837.2,1556.7" fill="none" stroke="#5A5A5A" stroke-width="2.5" stroke-linejoin="round"/>
<polygon points="892.2,1514.8 906.4,1540.5 878,1540.5" fill="none" stroke="#5A5A5A" stroke-width="2.5" stroke-linejoin="round"/>
<polygon points="932.8,1499.1 947,1524.8 918.6,1524.8" fill="none" stroke="#5A5A5A" stroke-width="2.5" stroke-linejoin="round"/>
<polygon points="973.5,1484.9 987.7,1510.6 959.3,1510.6" fill="none" stroke="#5A5A5A" stroke-width="2.5" stroke-linejoin="round"/>
<polygon points="1013.9,1472 1028.1,1497.7 999.7,1497.7" fill="none" stroke="#5A5A5A" stroke-width="2.5" stroke-linejoin="round"/>
<polygon points="1054.9,1459.6 1069.1,1485.3 1040.7,1485.3" fill="none" stroke="#5A5A5A" stroke-width="2.5" stroke-linejoin="round"/>
<polygon points="1095.5,1447.6 1109.7,1473.3 1081.3,1473.3" fill="none" stroke="#5A5A5A" stroke-width="2.5" stroke-linejoin="round"/>
<polygon points="1135.9,1436.2 1150.1,1461.9 1121.7,1461.9" fill="none" stroke="#5A5A5A" stroke-width="2.5" stroke-linejoin="round"/>
<polygon points="1204.8,1418.7 1219,1444.4 1190.6,1444.4" fill="none" stroke="#5A5A5A" stroke-width="2.5" stroke-linejoin="round"/>
<polygon points="1274.5,1403.1 1288.7,1428.8 1260.3,1428.8" fill="none" stroke="#5A5A5A" stroke-width="2.5" stroke-linejoin="round"/>
<polygon points="1343.9,1388.7 1358.1,1414.4 1329.7,1414.4" fill="none" stroke="#5A5A5A" stroke-width="2.5" stroke-linejoin="round"/>
<polygon points="1413.6,1374.8 1427.8,1400.5 1399.4,1400.5" fill="none" stroke="#5A5A5A" stroke-width="2.5" stroke-linejoin="round"/>
<polygon points="1483.1,1362.5 1497.3,1388.2 1468.9,1388.2" fill="none" stroke="#5A5A5A" stroke-width="2.5" stroke-linejoin="round"/>
<rect x="715.3" y="1014.7" width="21.2" height="21.2" rx="1" fill="none" stroke="#136AAE" stroke-width="2.5"/>
<circle cx="725.9" cy="1074.6" r="13" fill="none" stroke="#961733" stroke-width="2.5"/>
<polygon points="1006,1007.9 1019,1025.2 1006,1042.5 993,1025.2" fill="none" stroke="#E2AD28" stroke-width="2.5" stroke-linejoin="round"/>
<polygon points="1006.5,1058.5 1021.5,1084 991.5,1084" fill="none" stroke="#5A5A5A" stroke-width="2.5" stroke-linejoin="round"/>
<text transform="translate(761.33,1034.2) scale(1.0667,1.0000)" font-size="41" font-style="italic" fill="#404040">a</text>
<text transform="translate(792.87,1039.2) scale(1.4150,1.0000)" font-size="41" fill="#404040">=</text>
<text transform="translate(837.51,1034.2) scale(0.9966,1.0000)" font-size="41" fill="#404040">700</text>
<text transform="translate(905.8,1034.2) scale(1.0476,1.0000)" font-size="41" fill="#404040">nm</text>
<text transform="translate(1041.03,1034.2) scale(1.0667,1.0000)" font-size="41" font-style="italic" fill="#404040">a</text>
<text transform="translate(1072.27,1039.2) scale(1.4150,1.0000)" font-size="41" fill="#404040">=</text>
<text transform="translate(1115.84,1034.2) scale(1.0194,1.0000)" font-size="41" fill="#404040">1000</text>
<text transform="translate(1206.4,1034.2) scale(1.0210,1.0000)" font-size="41" fill="#404040">nm</text>
<text transform="translate(761.33,1085) scale(1.0667,1.0000)" font-size="41" font-style="italic" fill="#404040">a</text>
<text transform="translate(792.87,1090) scale(1.4150,1.0000)" font-size="41" fill="#404040">=</text>
<text transform="translate(838.52,1085) scale(0.9797,1.0000)" font-size="41" fill="#404040">840</text>
<text transform="translate(905.8,1085) scale(1.0476,1.0000)" font-size="41" fill="#404040">nm</text>
<text transform="translate(1041.03,1085) scale(1.0667,1.0000)" font-size="41" font-style="italic" fill="#404040">a</text>
<text transform="translate(1072.27,1090) scale(1.4150,1.0000)" font-size="41" fill="#404040">=</text>
<text transform="translate(1115.84,1085) scale(1.0194,1.0000)" font-size="41" fill="#404040">1450</text>
<text transform="translate(1206.4,1085) scale(1.0210,1.0000)" font-size="41" fill="#404040">nm</text>
</g>
</svg></body></html>
